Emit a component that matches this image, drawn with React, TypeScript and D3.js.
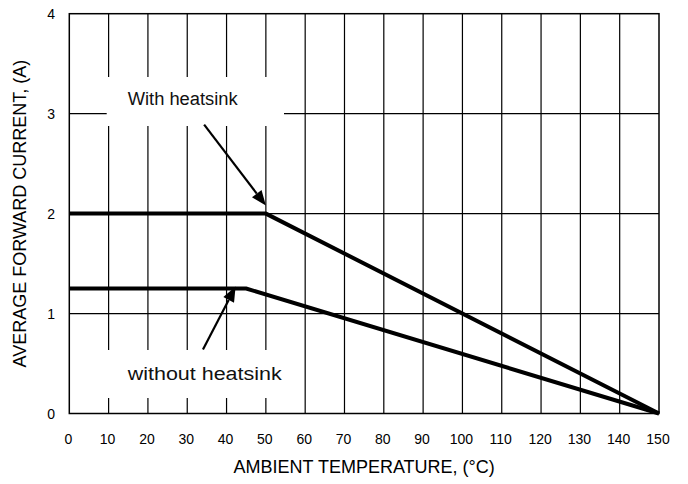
import * as d3 from 'd3';

// temperature breakpoints (°C) and derated current (A)
const tempWith = [0, 50, 150];
const ampsWith = [2, 2, 0];
const tempWithout = [0, 45, 150];
const ampsWithout = [1.25, 1.25, 0];

const xTicks = [0, 10, 20, 30, 40, 50, 60, 70, 80, 90, 100, 110, 120, 130, 140, 150];
const yTicks = [0, 1, 2, 3, 4];

// annotation arrows, in data units: [fromT, fromA, toT, toA]
const arrowWith = [34.3, 2.89, 50, 2.08];
const arrowWithout = [34, 0.64, 42.3, 1.27];

const W = 688;
const H = 484;
const m = { top: 13.7, right: 29, bottom: 70.5, left: 69.3 };
const font = 'Arial, "Liberation Sans", sans-serif';

export default function App() {
  const x = d3.scaleLinear().domain([0, 150]).range([m.left, W - m.right]);
  const y = d3.scaleLinear().domain([0, 4]).range([H - m.bottom, m.top]);

  const line = d3.line<[number, number]>()
    .x(d => x(d[0]))
    .y(d => y(d[1]));

  const withPts = tempWith.map((t, i) => [t, ampsWith[i]] as [number, number]);
  const withoutPts = tempWithout.map((t, i) => [t, ampsWithout[i]] as [number, number]);

  // arrow with a filled head, head length 15
  const arrow = (a: number[]) => {
    const x1 = x(a[0]), y1 = y(a[1]), x2 = x(a[2]), y2 = y(a[3]);
    const ang = Math.atan2(y2 - y1, x2 - x1);
    const len = 15, half = 6;
    const bx = x2 - len * Math.cos(ang), by = y2 - len * Math.sin(ang);
    const px = -Math.sin(ang) * half, py = Math.cos(ang) * half;
    return (
      <g>
        <line x1={x1} y1={y1} x2={bx} y2={by} stroke="#000" strokeWidth={2.2} />
        <path d={`M${x2},${y2}L${bx + px},${by + py}L${bx - px},${by - py}Z`} fill="#000" />
      </g>
    );
  };

  const x0 = x(0), x1 = x(150), y0 = y(0), y1 = y(4);

  return (
    <svg width={W} height={H} style={{ position: 'absolute', left: 0, top: 0, background: '#fff' }}
      fontFamily={font}>
      {/* grid */}
      {xTicks.slice(1, -1).map(t => (
        <line key={'gx' + t} x1={x(t)} x2={x(t)} y1={y1} y2={y0} stroke="#000" strokeWidth={1.2} />
      ))}
      {yTicks.slice(1, -1).map(t => (
        <line key={'gy' + t} x1={x0} x2={x1} y1={y(t)} y2={y(t)} stroke="#000" strokeWidth={1.2} />
      ))}
      {/* frame */}
      <rect x={x0} y={y1} width={x1 - x0} height={y0 - y1} fill="none" stroke="#000" strokeWidth={1.5} />

      {/* label boxes hide the grid */}
      <rect x={106.7} y={77} width={177.3} height={49} fill="#fff" />
      <rect x={106.7} y={350} width={179} height={48} fill="#fff" />

      {/* derating curves */}
      <path d={line(withPts) ?? ''} fill="none" stroke="#000" strokeWidth={4} strokeLinejoin="miter" />
      <path d={line(withoutPts) ?? ''} fill="none" stroke="#000" strokeWidth={4} strokeLinejoin="miter" />

      {arrow(arrowWith)}
      {arrow(arrowWithout)}

      <text x={127.7} y={105} fontSize={18} fill="#111" textLength={110} lengthAdjust="spacingAndGlyphs">With heatsink</text>
      <text x={127.7} y={380} fontSize={18} fill="#111" textLength={154} lengthAdjust="spacingAndGlyphs">without heatsink</text>

      {/* tick labels */}
      {xTicks.map(t => (
        <text key={'tx' + t} x={x(t) - 1} y={443.5} fontSize={14} textAnchor="middle" fill="#000">{t}</text>
      ))}
      {yTicks.map(t => (
        <text key={'ty' + t} x={55} y={y(t) + 5} fontSize={14} textAnchor="end" fill="#000">{t}</text>
      ))}

      {/* axis titles */}
      <text x={(x0 + x1) / 2} y={473} fontSize={18} textAnchor="middle" fill="#000">AMBIENT TEMPERATURE, (°C)</text>
      <text transform={`translate(26,${(y0 + y1) / 2}) rotate(-90)`} fontSize={18} textAnchor="middle" fill="#000">
        AVERAGE FORWARD CURRENT, (A)
      </text>
    </svg>
  );
}
